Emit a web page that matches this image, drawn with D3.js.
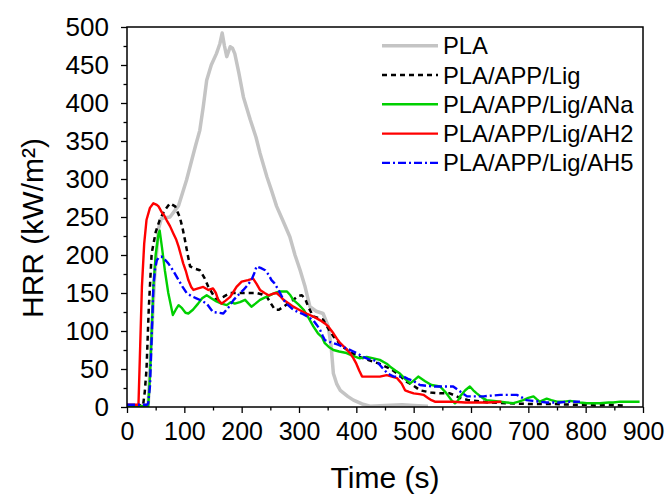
<!DOCTYPE html>
<html lang="en">
<head>
<meta charset="utf-8">
<style type="text/css">
    body { margin: 0; background: #fff; }
    text { font-family: "Liberation Sans", Arial, sans-serif; fill: #000; }
</style>
</head>
<body>
<script src="https://d3js.org/d3.v7.min.js"></script>
<script type="text/javascript">
    // HRR curves, [time (s), HRR (kW/m2)]
    var pla = [[0,2],[30,2],[37,3],[42,80],[48,170],[55,235],[60,248],[75,250],[90,265],[104,299],[113,325],[120,345],[127,364],[133,395],[139,430],[147,450],[156,465],[162,478],[166,492],[170,475],[174,461],[180,474],[184,472],[188,465],[195,440],[203,408],[215,378],[225,355],[232,334],[244,303],[252,285],[261,264],[272,245],[284,224],[293,200],[302,180],[310,160],[319,132],[330,126],[342,123],[351,106],[356,80],[360,44],[366,30],[372,22],[385,14],[395,9],[410,4],[424,1],[450,2],[480,3],[500,2],[525,1]];
    var lig = [[0,2],[28,2],[31,20],[34,49],[38,130],[43,202],[50,230],[57,246],[65,258],[75,268],[84,264],[92,250],[97,235],[101,220],[106,200],[110,185],[118,182],[127,180],[135,170],[142,158],[150,148],[156,141],[168,145],[180,150],[200,150],[215,150],[226,150],[236,148],[244,145],[252,135],[258,128],[265,128],[273,132],[282,137],[290,141],[298,146],[305,147],[311,142],[316,132],[325,119],[342,115],[352,102],[360,93],[375,80],[390,72],[405,66],[420,62],[440,57],[460,50],[475,42],[488,33],[500,28],[511,22],[530,19],[546,18],[563,18],[572,15],[581,12],[595,9],[610,8],[630,6],[660,5],[700,4],[740,4],[780,3],[802,3],[820,2],[840,3],[865,2]];
    var ana = [[0,1],[37,1],[40,40],[43,100],[46,158],[50,200],[55,228],[57,232],[61,210],[66,180],[72,150],[80,121],[85,128],[90,134],[96,130],[102,124],[107,123],[115,128],[124,136],[131,143],[139,147],[147,143],[156,139],[165,136],[174,134],[181,138],[188,136],[197,138],[206,141],[212,136],[217,132],[224,136],[232,141],[240,144],[249,147],[258,150],[267,152],[279,152],[285,147],[290,141],[299,135],[308,128],[317,117],[325,106],[333,97],[340,92],[345,84],[352,79],[360,75],[370,73],[383,71],[395,67],[406,64],[418,66],[430,64],[441,62],[453,57],[459,53],[468,48],[476,44],[485,37],[494,31],[502,36],[508,40],[520,34],[531,29],[546,27],[555,20],[561,14],[567,8],[572,5],[577,8],[581,14],[590,22],[598,27],[604,22],[610,18],[620,12],[627,9],[640,8],[651,7],[662,6],[674,5],[683,7],[691,9],[700,12],[709,14],[715,10],[720,7],[726,9],[732,11],[740,9],[750,7],[762,7],[773,8],[790,6],[802,5],[815,5],[825,5],[840,6],[848,6],[860,7],[872,7],[885,7],[894,7]];
    var ah2 = [[0,3],[20,3],[23,80],[26,158],[30,215],[34,246],[40,262],[46,268],[52,266],[55,264],[60,257],[65,252],[69,246],[75,238],[81,228],[86,220],[90,211],[94,200],[98,189],[103,178],[107,167],[112,158],[116,154],[124,156],[133,158],[142,154],[150,156],[155,150],[159,141],[165,136],[172,140],[180,145],[186,152],[191,158],[200,165],[211,167],[220,169],[226,162],[232,154],[240,150],[247,147],[254,149],[261,150],[267,146],[273,141],[281,137],[290,132],[300,128],[313,123],[325,119],[337,114],[345,110],[351,106],[356,101],[360,97],[366,90],[372,84],[380,78],[389,71],[395,64],[400,57],[405,48],[410,40],[420,40],[430,40],[441,40],[453,42],[462,40],[471,38],[479,31],[485,22],[492,20],[500,18],[510,17],[517,16],[525,12],[531,9],[537,7],[550,7],[569,7],[590,6],[610,6],[630,6],[653,7]];
    var ah5 = [[0,3],[35,3],[37,5],[40,27],[43,90],[46,158],[49,182],[52,193],[56,197],[60,198],[66,194],[72,189],[80,180],[90,167],[97,158],[104,150],[112,146],[121,143],[130,140],[139,136],[145,130],[150,125],[160,124],[168,123],[177,131],[186,141],[195,148],[203,154],[210,160],[217,167],[222,176],[226,185],[233,183],[241,180],[247,174],[252,167],[257,163],[261,158],[267,150],[273,141],[281,134],[290,128],[298,125],[305,123],[315,119],[325,114],[331,108],[337,101],[341,94],[345,88],[352,86],[360,84],[368,82],[377,79],[386,76],[395,73],[403,70],[412,66],[421,63],[430,62],[438,58],[447,50],[455,44],[465,40],[473,40],[482,40],[490,37],[500,34],[511,29],[522,28],[534,27],[550,27],[569,27],[580,21],[593,14],[607,14],[622,14],[636,15],[651,16],[665,16],[680,16],[690,12],[697,9],[708,8],[720,7],[732,6],[744,6],[755,6],[767,7],[778,7],[790,7]];

    var seriesNames = ["PLA", "PLA/APP/Lig", "PLA/APP/Lig/ANa", "PLA/APP/Lig/AH2", "PLA/APP/Lig/AH5"];
    var seriesData = [pla, lig, ana, ah2, ah5];
    var seriesColors = ["#c4c4c4", "#000000", "#00d000", "#ff0000", "#0000ff"];
    var seriesWidths = [3.5, 2.5, 2.4, 2.4, 2.4];
    var seriesDash = [null, "5,4", null, null, "8,3,2,3"];

    var xTicks = d3.range(0, 901, 100);
    var yTicks = d3.range(0, 501, 50);

    var width = 668, height = 494;
    // plot box (named so they don't clash with window.top)
    var pLeft = 127, pRight = 643, pTop = 27, pBottom = 407;

    var svg = d3.select("body").append("svg")
        .attr("width", width)
        .attr("height", height);

    svg.append("rect").attr("width", width).attr("height", height).attr("fill", "#fff");

    var x = d3.scaleLinear().domain([0, 900]).range([pLeft, pRight]);
    var y = d3.scaleLinear().domain([0, 500]).range([pBottom, pTop]);

    // curves
    var line = d3.line()
        .x(function (d) { return x(d[0]); })
        .y(function (d) { return y(d[1]); });

    svg.append("clipPath").attr("id", "plot")
        .append("rect").attr("x", pLeft).attr("y", pTop)
        .attr("width", pRight - pLeft).attr("height", pBottom - pTop);

    var plot = svg.append("g").attr("clip-path", "url(#plot)");
    seriesData.forEach(function (s, i) {
        plot.append("path")
            .attr("d", line(s))
            .attr("fill", "none")
            .attr("stroke", seriesColors[i])
            .attr("stroke-width", seriesWidths[i])
            .attr("stroke-dasharray", seriesDash[i])
            .attr("stroke-linejoin", "round");
    });

    // axes: major + minor ticks, outward
    svg.append("g")
        .attr("transform", "translate(0," + pBottom + ")")
        .call(d3.axisBottom(x).tickValues(xTicks).tickSize(6).tickPadding(9));
    svg.append("g")
        .attr("transform", "translate(0," + pBottom + ")")
        .call(d3.axisBottom(x).tickValues(d3.range(50, 900, 100)).tickSize(3.5).tickFormat(""));

    svg.append("g")
        .attr("class", "yaxis")
        .attr("transform", "translate(" + pLeft + ",0)")
        .call(d3.axisLeft(y).tickValues(yTicks).tickSize(6).tickPadding(12));
    svg.append("g")
        .attr("transform", "translate(" + pLeft + ",0)")
        .call(d3.axisLeft(y).tickValues(d3.range(25, 500, 50)).tickSize(3.5).tickFormat(""));

    svg.selectAll(".domain").remove();
    svg.selectAll(".tick line").attr("stroke", "#000").attr("stroke-width", 1.3);
    svg.selectAll(".tick text")
        .attr("font-size", 25)
        .attr("font-family", "Liberation Sans, Arial, sans-serif")
        .attr("fill", "#000");
    svg.selectAll(".yaxis .tick text").attr("font-size", 26);

    // frame
    svg.append("rect")
        .attr("x", pLeft).attr("y", pTop)
        .attr("width", pRight - pLeft).attr("height", pBottom - pTop)
        .attr("fill", "none").attr("stroke", "#000").attr("stroke-width", 1.5);

    // axis titles
    svg.append("text")
        .attr("x", (pLeft + pRight) / 2).attr("y", 488)
        .attr("text-anchor", "middle")
        .attr("font-size", 30)
        .text("Time (s)");

    svg.append("text")
        .attr("transform", "translate(43,228) rotate(-90)")
        .attr("text-anchor", "middle")
        .attr("font-size", 30)
        .text("HRR (kW/m\u00b2)");

    // legend
    var legend = svg.append("g");
    seriesNames.forEach(function (name, i) {
        var ly = 45.7 + i * 29.3;
        legend.append("line")
            .attr("x1", 382).attr("x2", 438)
            .attr("y1", ly).attr("y2", ly)
            .attr("stroke", seriesColors[i])
            .attr("stroke-width", seriesWidths[i])
            .attr("stroke-dasharray", seriesDash[i]);
        legend.append("text")
            .attr("x", 443).attr("y", ly + 8.5)
            .attr("font-size", 23.8)
            .text(name);
    });
</script>
</body>
</html>
